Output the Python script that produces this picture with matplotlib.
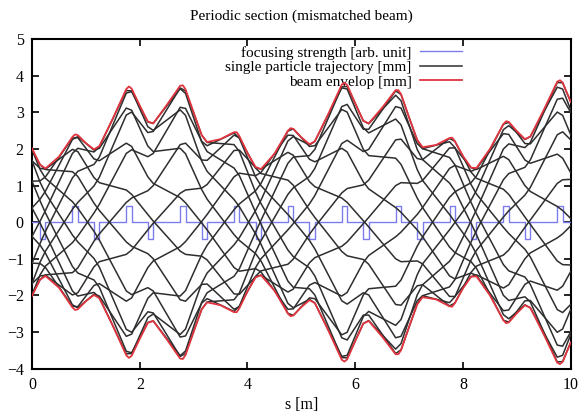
import numpy as np
import matplotlib
matplotlib.use("Agg")
import matplotlib.pyplot as plt
from matplotlib.lines import Line2D

# ---- focusing strength (quadrupole pulses) ----
quad_start = [0.15, 0.75, 1.15, 1.75, 2.15, 2.75, 3.15, 3.75, 4.15, 4.75,
              5.15, 5.75, 6.15, 6.75, 7.15, 7.75, 8.15, 8.75, 9.15, 9.75]
quad_end = [0.25, 0.85, 1.25, 1.85, 2.25, 2.85, 3.25, 3.85, 4.25, 4.85,
            5.25, 5.85, 6.25, 6.85, 7.25, 7.85, 8.25, 8.85, 9.25, 9.85]
quad_strength = [-0.45, 0.45, -0.45, 0.45, -0.45, 0.45, -0.45, 0.45, -0.45, 0.45,
                 -0.45, 0.45, -0.45, 0.45, -0.45, 0.45, -0.45, 0.45, -0.45, 0.45]

# ---- single particle trajectories [mm], at s = 0, quad edges, 10 ----
traj_s = [0.0, 0.15, 0.25, 0.75, 0.85, 1.15, 1.25, 1.75, 1.85, 2.15, 2.25,
          2.75, 2.85, 3.15, 3.25, 3.75, 3.85, 4.15, 4.25, 4.75, 4.85, 5.15,
          5.25, 5.75, 5.85, 6.15, 6.25, 6.75, 6.85, 7.15, 7.25, 7.75, 7.85,
          8.15, 8.25, 8.75, 8.85, 9.15, 9.25, 9.75, 9.85, 10.0]
traj_0 = [1.98, 1.44, 1.20, 0.56, 0.38, -0.25, -0.49, -1.88, -1.98, -1.79, -1.88,
          -3.14, -3.11, -2.21, -2.09, -2.44, -2.29, -1.24, -1.00, -0.21, -0.04, 0.50,
          0.73, 2.15, 2.24, 1.93, 1.99, 3.16, 3.12, 2.15, 2.01, 2.20, 2.04,
          1.03, 0.77, -0.14, -0.31, -0.74, -0.95, -2.39, -2.47, -2.25]
traj_1 = [1.68, 1.09, 0.79, -0.35, -0.54, -0.99, -1.23, -2.93, -3.01, -2.45, -2.48,
          -3.67, -3.59, -2.38, -2.18, -2.12, -1.93, -0.82, -0.51, 0.76, 0.94, 1.25,
          1.47, 3.16, 3.22, 2.54, 2.54, 3.59, 3.49, 2.24, 2.01, 1.77, 1.57,
          0.54, 0.23, -1.16, -1.33, -1.50, -1.70, -3.36, -3.39, -3.00]
traj_2 = [1.12, 0.58, 0.25, -1.21, -1.39, -1.58, -1.78, -3.53, -3.57, -2.74, -2.70,
          -3.65, -3.52, -2.19, -1.93, -1.48, -1.27, -0.27, 0.05, 1.61, 1.78, 1.82,
          1.99, 3.70, 3.71, 2.77, 2.69, 3.47, 3.32, 1.99, 1.71, 1.07, 0.86,
          -0.03, -0.34, -2.00, -2.14, -2.04, -2.18, -3.82, -3.81, -3.29]
traj_3 = [0.39, -0.03, -0.32, -1.88, -2.02, -1.92, -2.06, -3.60, -3.59, -2.61, -2.51,
          -3.07, -2.92, -1.67, -1.39, -0.62, -0.42, 0.32, 0.60, 2.22, 2.34, 2.11,
          2.21, 3.67, 3.64, 2.58, 2.44, 2.82, 2.66, 1.44, 1.14, 0.21, 0.01,
          -0.60, -0.87, -2.53, -2.64, -2.26, -2.34, -3.69, -3.64, -3.07]
traj_4 = [-0.39, -0.63, -0.85, -2.26, -2.34, -1.97, -2.02, -3.12, -3.06, -2.08, -1.93,
          -2.02, -1.87, -0.89, -0.63, 0.34, 0.50, 0.86, 1.06, 2.49, 2.55, 2.07,
          2.09, 3.08, 3.01, 1.99, 1.82, 1.75, 1.58, 0.66, 0.40, -0.68, -0.83,
          -1.08, -1.26, -2.68, -2.73, -2.15, -2.14, -3.01, -2.92, -2.39]
traj_5 = [-1.12, -1.13, -1.24, -2.30, -2.31, -1.73, -1.68, -2.16, -2.07, -1.24, -1.06,
          -0.67, -0.53, 0.02, 0.21, 1.24, 1.34, 1.27, 1.36, 2.38, 2.37, 1.72,
          1.65, 2.02, 1.92, 1.10, 0.91, 0.40, 0.27, -0.21, -0.40, -1.47, -1.55,
          -1.39, -1.46, -2.42, -2.40, -1.70, -1.61, -1.86, -1.75, -1.35]
traj_6 = [-1.68, -1.47, -1.45, -1.99, -1.93, -1.22, -1.08, -0.88, -0.76, -0.21, -0.03,
          0.79, 0.88, 0.93, 1.03, 1.96, 1.97, 1.49, 1.45, 1.91, 1.83, 1.11,
          0.97, 0.66, 0.54, 0.04, -0.13, -1.00, -1.08, -1.06, -1.14, -2.03, -2.03,
          -1.49, -1.44, -1.80, -1.71, -1.00, -0.84, -0.43, -0.32, -0.10]
traj_7 = [-1.98, -1.57, -1.44, -1.38, -1.25, -0.52, -0.32, 0.54, 0.66, 0.86, 1.00,
          2.12, 2.16, 1.70, 1.69, 2.38, 2.31, 1.48, 1.33, 1.15, 1.01, 0.33,
          0.13, -0.80, -0.92, -1.02, -1.15, -2.25, -2.27, -1.74, -1.71, -2.29, -2.21,
          -1.37, -1.20, -0.90, -0.76, -0.14, 0.06, 1.06, 1.16, 1.17]
trajectories = [traj_0, traj_1, traj_2, traj_3, traj_4, traj_5, traj_6, traj_7]

# ---- beam envelope [mm] (upper half; beam is symmetric) ----
env_s = [0.0, 0.075, 0.15, 0.25, 0.5, 0.75, 0.8, 0.85, 1.0, 1.15, 1.25, 1.5,
         1.75, 1.8, 1.85, 2.0, 2.15, 2.25, 2.5, 2.75, 2.8, 2.85, 3.0, 3.15, 3.25,
         3.5, 3.75, 3.8, 3.85, 4.0, 4.15, 4.25, 4.5, 4.75, 4.8, 4.85, 5.0, 5.15,
         5.25, 5.5, 5.75, 5.8, 5.85, 6.0, 6.15, 6.25, 6.5, 6.75, 6.8, 6.85, 7.0,
         7.15, 7.25, 7.5, 7.75, 7.8, 7.85, 8.0, 8.15, 8.25, 8.5, 8.75, 8.8, 8.85,
         9.0, 9.15, 9.25, 9.5, 9.75, 9.8, 9.85, 9.925, 10.0]
env_upper = [2.02, 1.79, 1.57, 1.47, 1.79, 2.33, 2.40, 2.38, 2.16, 1.99, 2.08, 2.83,
             3.64, 3.71, 3.65, 3.19, 2.75, 2.70, 3.20, 3.73, 3.74, 3.63, 3.00, 2.38, 2.19,
             2.27, 2.46, 2.46, 2.35, 1.89, 1.51, 1.45, 1.87, 2.50, 2.57, 2.55, 2.32, 2.13,
             2.21, 2.96, 3.76, 3.81, 3.75, 3.25, 2.77, 2.70, 3.13, 3.61, 3.61, 3.50, 2.86,
             2.25, 2.05, 2.11, 2.30, 2.31, 2.21, 1.81, 1.49, 1.48, 2.00, 2.68, 2.76, 2.74,
             2.49, 2.27, 2.34, 3.07, 3.84, 3.88, 3.82, 3.55, 3.29]

labels = ['focusing strength [arb. unit]', 'single particle trajectory [mm]',
          'beam envelop [mm]']
c_blue, c_black, c_red = '#7c7cec', '#2e2e2e', '#e2343e'
serif = 'Liberation Serif'

fig = plt.figure(figsize=(5.78, 4.17), dpi=100)
ax = fig.add_axes([0.0554, 0.1163, 0.932, 0.7895])

# focusing strength as a step trace
fx, fy = [0.0], [0.0]
for qa, qb, q in zip(quad_start, quad_end, quad_strength):
    fx += [qa, qa, qb, qb]
    fy += [0.0, q, q, 0.0]
fx.append(10.0)
fy.append(0.0)
ax.plot(fx, fy, color=c_blue, lw=1.0, zorder=3)

ts = np.array(traj_s)
for tr in trajectories:
    tr = np.array(tr)
    ax.plot(ts, tr, color=c_black, lw=1.1, zorder=4)
    ax.plot(ts, -tr, color=c_black, lw=1.1, zorder=4)

es = np.array(env_s)
eu = np.array(env_upper)
ax.plot(es, eu, color=c_red, lw=1.3, zorder=5)
ax.plot(es, -eu, color=c_red, lw=1.3, zorder=5)

ax.set_xlim(0, 10)
ax.set_ylim(-4, 5)
ax.set_xticks(range(0, 11, 2))
ax.set_yticks(range(-4, 6))
ax.tick_params(direction='in', top=True, right=True, length=5, width=1.2,
               labelsize=11.5, pad=6)
for lab in ax.get_xticklabels() + ax.get_yticklabels():
    lab.set_fontfamily(serif)
for sp in ax.spines.values():
    sp.set_linewidth(1.5)
ax.set_title('Periodic section (mismatched beam)', fontsize=11,
             fontfamily=serif, pad=14)
ax.set_xlabel('s [m]', fontsize=11.5, fontfamily=serif, labelpad=3)

handles = [Line2D([], [], color=c_blue, lw=1.0),
           Line2D([], [], color=c_black, lw=1.1),
           Line2D([], [], color=c_red, lw=1.3)]
leg = ax.legend(handles, labels, loc='upper right', bbox_to_anchor=(0.818, 1.012),
                frameon=False, markerfirst=False, handlelength=2.75,
                handletextpad=0.55, prop={'family': serif, 'size': 11},
                labelspacing=0.05, borderaxespad=0.3)
leg.set_zorder(1)
fig.savefig('out.png', dpi=100)
